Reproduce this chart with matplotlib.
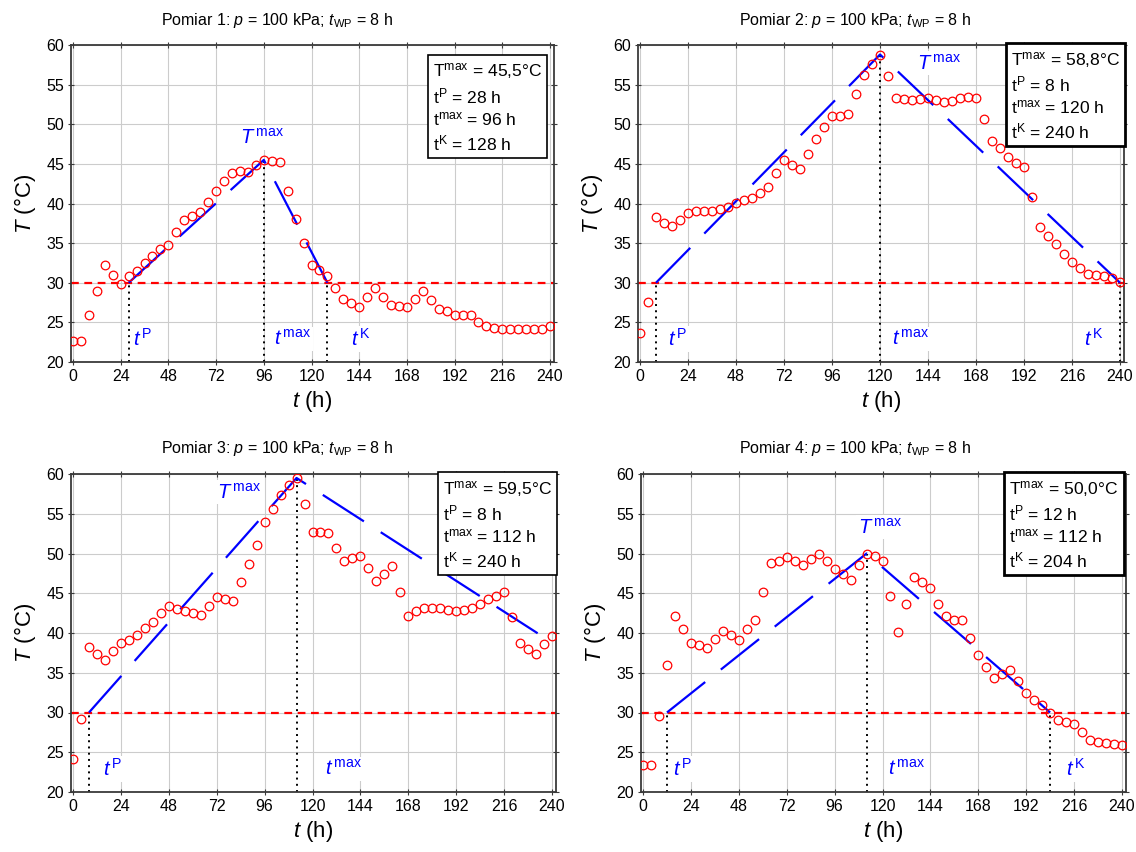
import numpy as np
import matplotlib
matplotlib.use("Agg")
import matplotlib.pyplot as plt

plt.rcParams['font.family'] = ['Liberation Sans', 'DejaVu Sans']
plt.rcParams['mathtext.fontset'] = 'custom'
plt.rcParams['mathtext.rm'] = 'Liberation Sans'
plt.rcParams['mathtext.it'] = 'Liberation Sans:italic'
plt.rcParams['mathtext.bf'] = 'Liberation Sans:bold'

# czas pomiaru co 4 h
hours = list(range(0, 244, 4))

temp_1 = [22.7, 22.7, 25.9, 29.0, 32.3, 31.0, 29.9, 30.8, 31.5, 32.5, 33.4, 34.3, 34.8, 36.4, 37.9,
          38.4, 38.9, 40.2, 41.6, 42.8, 43.9, 44.1, 44.0, 44.9, 45.5, 45.3, 45.2, 41.6, 38.0, 35.0,
          32.3, 31.6, 30.8, 29.3, 28.0, 27.5, 27.0, 28.2, 29.3, 28.2, 27.2, 27.1, 26.9, 27.9, 28.9,
          27.8, 26.7, 26.4, 25.9, 25.9, 25.9, 25.1, 24.5, 24.3, 24.2, 24.2, 24.2, 24.2, 24.2, 24.2, 24.5]
temp_2 = [23.7, 27.6, 38.3, 37.6, 37.1, 37.9, 38.8, 39.0, 39.0, 39.1, 39.3, 39.6, 40.1, 40.4, 40.7,
          41.3, 42.1, 43.8, 45.5, 44.9, 44.3, 46.2, 48.2, 49.6, 51.0, 51.1, 51.3, 53.8, 56.2, 57.6,
          58.8, 56.1, 53.3, 53.2, 53.0, 53.2, 53.3, 53.0, 52.8, 52.9, 53.3, 53.4, 53.3, 50.7, 47.9,
          47.0, 45.9, 45.1, 44.6, 40.8, 37.0, 35.9, 34.9, 33.6, 32.6, 31.9, 31.1, 31.0, 30.8, 30.6, 30.1]
temp_3 = [24.2, 29.2, 38.3, 37.3, 36.6, 37.7, 38.8, 39.1, 39.7, 40.6, 41.4, 42.5, 43.4, 43.0, 42.8,
          42.5, 42.3, 43.4, 44.5, 44.3, 44.0, 46.4, 48.7, 51.1, 53.9, 55.6, 57.3, 58.6, 59.5, 56.2,
          52.7, 52.7, 52.6, 50.7, 49.0, 49.4, 49.7, 48.2, 46.6, 47.4, 48.4, 45.2, 42.1, 42.8, 43.2,
          43.1, 43.1, 42.9, 42.8, 42.9, 43.2, 43.7, 44.3, 44.7, 45.2, 42.0, 38.8, 38.0, 37.3, 38.6, 39.6]
temp_4 = [23.4, 23.4, 29.6, 36.0, 42.2, 40.5, 38.8, 38.5, 38.1, 39.2, 40.3, 39.7, 39.1, 40.5, 41.6,
          45.2, 48.8, 49.1, 49.6, 49.1, 48.6, 49.3, 49.9, 49.0, 48.0, 47.4, 46.7, 48.5, 50.0, 49.7,
          49.1, 44.7, 40.1, 43.7, 47.1, 46.4, 45.7, 43.7, 42.1, 41.6, 41.6, 39.4, 37.2, 35.7, 34.3,
          34.9, 35.3, 34.0, 32.4, 31.6, 31.0, 30.0, 29.1, 28.8, 28.6, 27.6, 26.5, 26.3, 26.2, 26.1, 25.9]
temps = [temp_1, temp_2, temp_3, temp_4]

# parametry charakterystyczne
T_max = [45.5, 58.8, 59.5, 50.0]
t_P = [28, 8, 8, 12]
t_max = [96, 120, 112, 112]
t_K = [128, 240, 240, 204]
T_end = [30.0, 30.0, 38.8, 30.0]     # temperatura na końcu linii spadku
show_tK = [True, True, False, True]
T_ref = 30.0

# położenia napisów
Tmax_lbl = [(84, 48.3), (138.5, 57.7), (72, 57.7), (107.5, 53.3)]
tP_lbl = [30.0, 14.0, 15.0, 15.0]
tmax_lbl = [101.0, 126.0, 126.5, 123.0]
tK_lbl = [140.0, 222.0, None, 212.0]
box_lw = [1.2, 2.0, 1.2, 2.0]

W, H = 1136, 852
# (lewo, prawo, góra, dół) w pikselach
boxes = [(71, 554, 45, 362), (638, 1124, 45, 362), (71, 556, 474, 792), (641, 1126, 474, 792)]
title_pos = [(277, 20), (855, 20), (277, 449), (855, 449)]
info_pos = [(0.976, 0.948), (0.993, 0.985), (0.991, 0.985), (0.985, 0.985)]

fig = plt.figure(figsize=(W / 100, H / 100), dpi=100)

for i in range(4):
    l, r, tp, bt = boxes[i]
    ax = fig.add_axes([l / W, 1 - bt / H, (r - l) / W, (bt - tp) / H])
    ax.set_xlim(-1, 242)
    ax.set_ylim(20, 60)
    ax.set_xticks(range(0, 241, 24))
    ax.set_yticks(range(20, 61, 5))
    ax.grid(color='#cccccc', lw=0.8, zorder=0)
    ax.set_axisbelow(True)
    for s in ax.spines.values():
        s.set_color('#3a3a3a')
        s.set_linewidth(1.3)
    ax.tick_params(direction='inout', length=4, width=0.8, color='#3a3a3a',
                   top=True, right=True, labelsize=11.5, pad=3)

    ax.axhline(T_ref, color='red', lw=1.6, ls=(0, (3.5, 2.5)), zorder=2)

    # linie pionowe t^P, t^max, t^K
    ax.plot([t_P[i], t_P[i]], [20, T_ref], color='black', lw=1.4, ls=(0, (1, 2.2)), zorder=2)
    ax.plot([t_max[i], t_max[i]], [20, T_max[i]], color='black', lw=1.4, ls=(0, (1, 2.2)), zorder=2)
    if show_tK[i]:
        ax.plot([t_K[i], t_K[i]], [20, T_end[i]], color='black', lw=1.4, ls=(0, (1, 2.2)), zorder=2)

    # linie trendu
    ax.plot([t_P[i], t_max[i], t_K[i]], [T_ref, T_max[i], T_end[i]],
            color='blue', lw=1.6, ls=(0, (22, 9)), zorder=3)

    ax.plot(hours, temps[i], 'o', ms=6.2, mfc='none', mec='red', mew=0.9, zorder=4)

    bb = dict(fc='white', ec='none', pad=1.5)
    fs_lbl = 14.5
    ax.text(Tmax_lbl[i][0], Tmax_lbl[i][1], r'$T^{\,\mathrm{max}}$', color='blue',
            fontsize=fs_lbl, ha='left', va='center', bbox=bb, zorder=5)
    ax.text(tP_lbl[i], 22.9, r'$t^{\,\mathrm{P}}$', color='blue',
            fontsize=fs_lbl, ha='left', va='center', bbox=bb, zorder=5)
    ax.text(tmax_lbl[i], 22.9, r'$t^{\,\mathrm{max}}$', color='blue',
            fontsize=fs_lbl, ha='left', va='center', bbox=bb, zorder=5)
    if tK_lbl[i] is not None:
        ax.text(tK_lbl[i], 22.9, r'$t^{\,\mathrm{K}}$', color='blue',
                fontsize=fs_lbl, ha='left', va='center', bbox=bb, zorder=5)

    info = (r'$\mathrm{T^{max}}$ = ' + f'{T_max[i]:.1f}'.replace('.', ',') + '°C\n'
            + r'$\mathrm{t^{P}}$ = ' + f'{t_P[i]} h\n'
            + r'$\mathrm{t^{max}}$ = ' + f'{t_max[i]} h\n'
            + r'$\mathrm{t^{K}}$ = ' + f'{t_K[i]} h')
    ax.text(info_pos[i][0], info_pos[i][1], info, transform=ax.transAxes,
            ha='right', va='top', multialignment='left', fontsize=12.6,
            linespacing=1.28, zorder=6,
            bbox=dict(boxstyle='square,pad=0.28', fc='white', ec='black', lw=box_lw[i]))

    ax.set_xlabel(r'$t$ (h)', fontsize=16, labelpad=4)
    ax.set_ylabel(r'$T$ (°C)', fontsize=16, labelpad=6)

    fig.text(title_pos[i][0] / W, 1 - title_pos[i][1] / H,
             f'Pomiar {i + 1}: ' + r'$p$ = 100 kPa; $t_{\mathrm{WP}}$ = 8 h',
             ha='center', va='center', fontsize=11.5)

fig.savefig('out.png', dpi=100)
